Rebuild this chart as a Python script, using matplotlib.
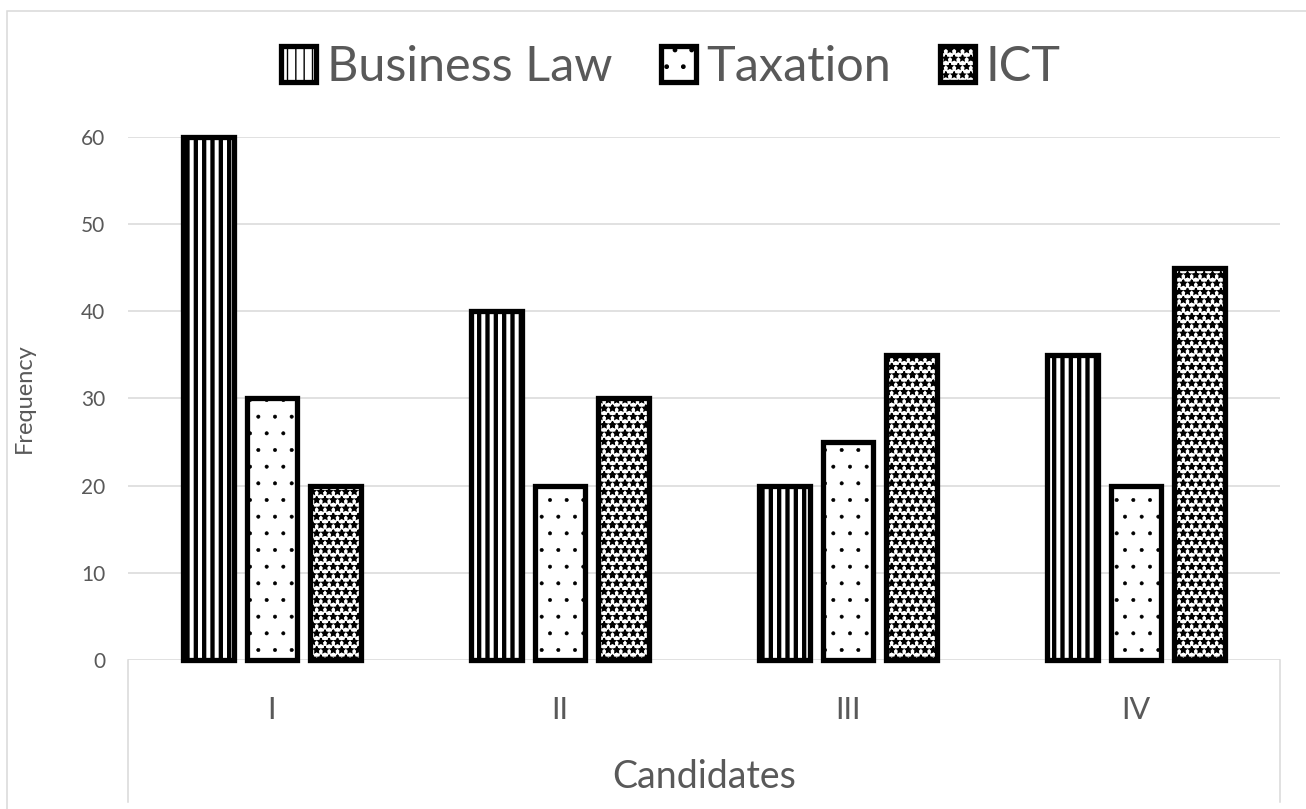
import matplotlib
matplotlib.use("Agg")
import matplotlib.pyplot as plt
import numpy as np
from matplotlib.patches import Rectangle
from matplotlib.transforms import blended_transform_factory

# Frequencies per candidate and subject
candidates = ["I", "II", "III", "IV"]
subjects = ["Business Law", "Taxation", "ICT"]
business_law = [60, 40, 20, 35]
taxation = [30, 20, 25, 20]
ict = [20, 30, 35, 45]
y_ticks = [0, 10, 20, 30, 40, 50, 60]

TEXT = "#595959"
GRID = "#d9d9d9"
W, H = 1306, 809

plt.rcParams["font.family"] = ["Lato", "DejaVu Sans"]

fig = plt.figure(figsize=(W / 100, H / 100), dpi=100)
ax = fig.add_axes([128 / W, (H - 660) / H, 1152 / W, 523 / H])

# hatch pattern + hatch line width per series
styles = [("||", 3.1), (".", 0.4), ("**", 1.2)]
series = [business_law, taxation, ict]
step = 0.222
width = 0.177
x = np.arange(len(candidates))

handles = []
for j, (vals, (hatch, hlw)) in enumerate(zip(series, styles)):
    with plt.rc_context({"hatch.linewidth": hlw}):
        bars = ax.bar(x + (j - 1) * step, vals, width, color="white",
                      edgecolor="black", linewidth=3.8, hatch=hatch,
                      label=subjects[j], zorder=3, clip_on=False)
    for b in bars:
        if hasattr(b, "set_hatch_linewidth"):
            b.set_hatch_linewidth(hlw)
    handles.append(bars)

ax.set_xlim(-0.5, 3.5)
ax.set_ylim(0, 60)
ax.set_yticks(y_ticks)
ax.set_xticks(x)
ax.set_xticklabels(candidates)
ax.tick_params(axis="y", length=0, pad=16.5, labelsize=15, labelcolor=TEXT)
ax.tick_params(axis="x", length=0, pad=26, labelsize=22, labelcolor=TEXT)
ax.grid(axis="y", color=GRID, linewidth=1.1)
ax.set_axisbelow(True)
for s in ax.spines.values():
    s.set_visible(False)

# category axis box lines below the plot
tr = blended_transform_factory(ax.transData, ax.transAxes)
for xv in (-0.5, 3.5):
    ax.plot([xv, xv], [0, -142 / 523], transform=tr, color=GRID,
            linewidth=1.1, clip_on=False)

ax.set_ylabel("Frequency", fontsize=17, color=TEXT)
ax.yaxis.set_label_coords(-93 / 1152, 0.5)
ax.set_xlabel("Candidates", fontsize=27, color=TEXT)
ax.xaxis.set_label_coords(0.5, -117 / 523)
ax.xaxis.label.set_va("center")

leg = fig.legend(handles=handles, labels=subjects, loc="center",
                 bbox_to_anchor=(671 / W, 1 - 67 / H), ncol=3, frameon=False,
                 fontsize=35, handlelength=0.72, handleheight=0.76,
                 handletextpad=0.22, columnspacing=1.0, labelcolor=TEXT)

# chart frame
fig.patches.append(Rectangle((7 / W, -0.1), 2, (H - 11) / H + 0.1,
                             transform=fig.transFigure, fill=False,
                             edgecolor=GRID, linewidth=1.1))

fig.savefig("out.png", dpi=100)
